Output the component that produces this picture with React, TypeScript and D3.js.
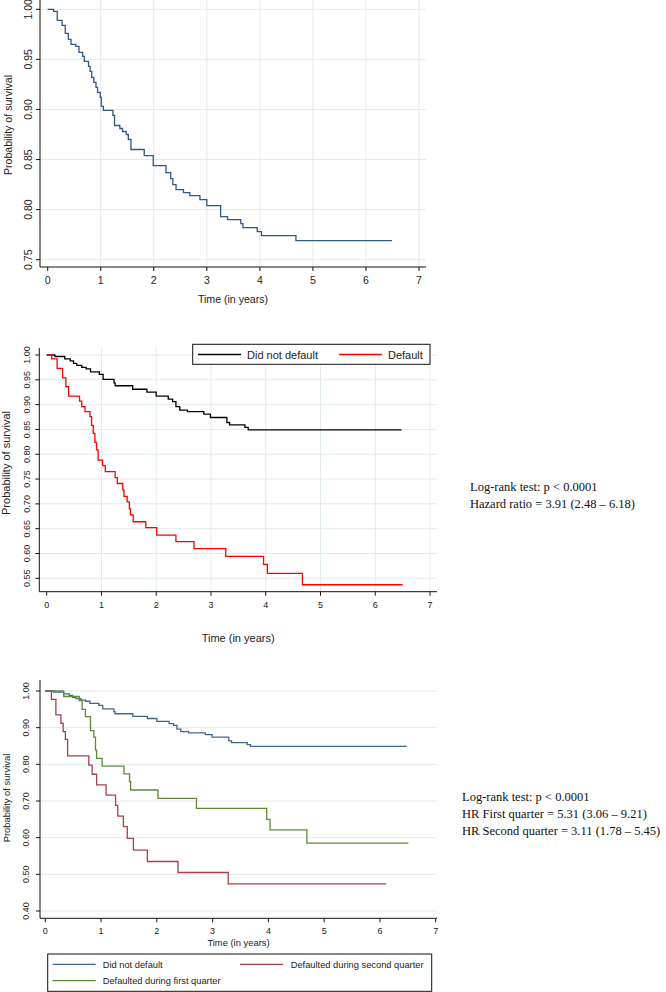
import React from "react";
import * as d3 from "d3";

// x ticks shared by all three panels
const yearTicks = [0, 1, 2, 3, 4, 5, 6, 7];

// panel 1: everyone
const overallT = [0.11, 0.18, 0.27, 0.33, 0.39, 0.44, 0.53, 0.59, 0.66, 0.69, 0.77, 0.8, 0.83, 0.87, 0.91, 0.94, 0.99, 1.01, 1.05, 1.23, 1.26, 1.36, 1.41, 1.48, 1.52, 1.57, 1.82, 1.99, 2.23, 2.32, 2.36, 2.42, 2.56, 2.68, 2.87, 3.0, 3.26, 3.39, 3.64, 3.68, 3.95, 4.03, 4.68];
const overallS = [0.998, 0.989, 0.984, 0.976, 0.97, 0.965, 0.963, 0.957, 0.953, 0.948, 0.943, 0.938, 0.932, 0.927, 0.922, 0.917, 0.912, 0.903, 0.899, 0.894, 0.884, 0.881, 0.878, 0.875, 0.87, 0.86, 0.854, 0.844, 0.837, 0.831, 0.825, 0.82, 0.817, 0.814, 0.81, 0.804, 0.793, 0.79, 0.786, 0.782, 0.778, 0.774, 0.769];
const overallEnd = 6.49;

// panel 2 and 3: did not default
const noDefaultT = [0.15, 0.33, 0.43, 0.49, 0.55, 0.64, 0.72, 0.8, 0.96, 1.03, 1.23, 1.25, 1.57, 1.83, 2.0, 2.22, 2.3, 2.36, 2.43, 2.57, 2.87, 2.99, 3.29, 3.34, 3.62, 3.68];
const noDefaultS = [0.997, 0.992, 0.988, 0.983, 0.979, 0.975, 0.972, 0.966, 0.961, 0.951, 0.944, 0.938, 0.931, 0.925, 0.917, 0.911, 0.906, 0.896, 0.889, 0.886, 0.881, 0.874, 0.864, 0.859, 0.854, 0.849];
const noDefaultEnd = 6.48;

// panel 2: default
const defaultT = [0.09, 0.19, 0.29, 0.35, 0.4, 0.6, 0.64, 0.7, 0.79, 0.82, 0.85, 0.88, 0.91, 0.94, 1.02, 1.07, 1.25, 1.29, 1.39, 1.41, 1.47, 1.51, 1.53, 1.58, 1.81, 2.01, 2.36, 2.69, 3.27, 3.96, 4.03, 4.67];
const defaultS = [0.992, 0.973, 0.954, 0.936, 0.917, 0.907, 0.896, 0.886, 0.876, 0.858, 0.842, 0.824, 0.809, 0.788, 0.777, 0.765, 0.753, 0.741, 0.728, 0.715, 0.704, 0.69, 0.678, 0.664, 0.652, 0.637, 0.624, 0.61, 0.594, 0.578, 0.56, 0.537];
const defaultEnd = 6.5;

// panel 3: defaulted during first / second quarter
const firstQT = [0.33, 0.61, 0.66, 0.72, 0.81, 0.87, 0.9, 0.92, 1.02, 1.41, 1.51, 1.53, 2.02, 2.71, 3.97, 4.03, 4.69];
const firstQS = [0.985, 0.974, 0.95, 0.93, 0.892, 0.874, 0.839, 0.816, 0.795, 0.774, 0.753, 0.73, 0.707, 0.68, 0.65, 0.621, 0.585];
const firstQEnd = 6.51;
const secondQT = [0.11, 0.19, 0.28, 0.32, 0.36, 0.4, 0.78, 0.84, 0.92, 1.09, 1.26, 1.3, 1.4, 1.47, 1.58, 1.83, 2.38, 3.28];
const secondQS = [0.977, 0.935, 0.912, 0.889, 0.868, 0.823, 0.798, 0.773, 0.744, 0.716, 0.688, 0.659, 0.63, 0.598, 0.566, 0.535, 0.505, 0.474];
const secondQEnd = 6.11;

const yTicks1 = [0.75, 0.8, 0.85, 0.9, 0.95, 1.0];
const yTicks2 = [0.55, 0.6, 0.65, 0.7, 0.75, 0.8, 0.85, 0.9, 0.95, 1.0];
const yTicks3 = [0.4, 0.5, 0.6, 0.7, 0.8, 0.9, 1.0];

const stats2 = ["Log-rank test: p < 0.0001", "Hazard ratio = 3.91 (2.48 \u2013 6.18)"];
const stats3 = ["Log-rank test: p < 0.0001", "HR First quarter = 5.31 (3.06 \u2013 9.21)", "HR Second quarter = 3.11 (1.78 \u2013 5.45)"];

const sans = "Arial, 'Liberation Sans', sans-serif";
const serif = "'Times New Roman', 'Liberation Serif', serif";
const gridColor = "#e2ebee";

const stepPoints = (t, s, end) => {
  const pts = [[0, 1]];
  t.forEach((v, i) => pts.push([v, s[i]]));
  pts.push([end, s[s.length - 1]]);
  return pts;
};

function Panel({ x0, x7, yTop, yBot, domain, axisX, axisY, axisTop, axisRight, yTicks, vGrid, tickFont, tickLabelX, titleX, titleY, xTickY, xTitleY, titleFont, series }) {
  const x = d3.scaleLinear().domain([0, 7]).range([x0, x7]);
  const y = d3.scaleLinear().domain(domain).range([yBot, yTop]);
  const line = d3.line().x(d => x(d[0])).y(d => y(d[1])).curve(d3.curveStepAfter);
  return (
    <g>
      {yTicks.map(v => (
        <line key={"hg" + v} x1={axisX} x2={axisRight} y1={y(v)} y2={y(v)} stroke={gridColor} strokeWidth={1} />
      ))}
      {vGrid && yearTicks.slice(1).map(v => (
        <line key={"vg" + v} x1={x(v)} x2={x(v)} y1={axisTop} y2={axisY} stroke={gridColor} strokeWidth={1} />
      ))}
      {series.map((s, i) => (
        <path key={i} d={line(s.pts)} fill="none" stroke={s.color} strokeWidth={1.3} />
      ))}
      <line x1={axisX} x2={axisX} y1={axisTop} y2={axisY} stroke="#111" />
      <line x1={axisX} x2={axisRight} y1={axisY} y2={axisY} stroke="#111" />
      {yTicks.map(v => (
        <g key={"yt" + v}>
          <line x1={axisX - 4} x2={axisX} y1={y(v)} y2={y(v)} stroke="#111" />
          <text transform={`translate(${tickLabelX},${y(v)}) rotate(-90)`} textAnchor="middle" fontFamily={sans} fontSize={tickFont} fill="#222">
            {v.toFixed(2)}
          </text>
        </g>
      ))}
      {yearTicks.map(v => (
        <g key={"xt" + v}>
          <line x1={x(v)} x2={x(v)} y1={axisY} y2={axisY + 4} stroke="#111" />
          <text x={x(v)} y={xTickY} textAnchor="middle" fontFamily={sans} fontSize={tickFont} fill="#222">{v}</text>
        </g>
      ))}
      <text transform={`translate(${titleX},${titleY}) rotate(-90)`} textAnchor="middle" fontFamily={sans} fontSize={titleFont} fill="#222">
        Probability of survival
      </text>
      <text x={(axisX + axisRight) / 2} y={xTitleY} textAnchor="middle" fontFamily={sans} fontSize={titleFont} fill="#222">
        Time (in years)
      </text>
    </g>
  );
}

export default function App() {
  const navy = "#2f5886";
  return (
    <div style={{ position: "absolute", left: 0, top: 0 }}>
      <svg width={666} height={992} style={{ display: "block", background: "#fff" }}>
        <Panel x0={47.7} x7={419} yTop={9.3} yBot={259.7} domain={[0.75, 1]} axisX={40} axisY={267} axisTop={0} axisRight={426}
          yTicks={yTicks1} vGrid={true} tickFont={10.5} tickLabelX={32} titleX={12} titleY={125} xTickY={284} xTitleY={303} titleFont={10.6}
          series={[{ pts: stepPoints(overallT, overallS, overallEnd), color: navy }]} />

        <Panel x0={46.7} x7={430} yTop={355} yBot={578.3} domain={[0.55, 1]} axisX={39.3} axisY={591.7} axisTop={348} axisRight={437}
          yTicks={yTicks2} vGrid={true} tickFont={9} tickLabelX={30} titleX={9.5} titleY={463} xTickY={608} xTitleY={641.5} titleFont={11}
          series={[
            { pts: stepPoints(noDefaultT, noDefaultS, noDefaultEnd), color: "#000" },
            { pts: stepPoints(defaultT, defaultS, defaultEnd), color: "#ff0000" },
          ]} />
        <rect x={192.7} y={344.3} width={237.3} height={20} fill="#fff" stroke="#111" />
        <line x1={198} x2={241} y1={354.5} y2={354.5} stroke="#000" strokeWidth={1.3} />
        <text x={247} y={358.5} fontFamily={sans} fontSize={11} fill="#222">Did not default</text>
        <line x1={339} x2={382} y1={354.5} y2={354.5} stroke="#ff0000" strokeWidth={1.3} />
        <text x={388} y={358.5} fontFamily={sans} fontSize={11} fill="#222">Default</text>
        {stats2.map((s, i) => (
          <text key={s} x={470} y={491 + i * 17} fontFamily={serif} fontSize={12.5} fill="#111">{s}</text>
        ))}

        <Panel x0={45.3} x7={435.7} yTop={691} yBot={911} domain={[0.4, 1]} axisX={40} axisY={918.3} axisTop={680} axisRight={437}
          yTicks={yTicks3} vGrid={false} tickFont={9} tickLabelX={28.5} titleX={10} titleY={798} xTickY={933.5} xTitleY={946} titleFont={9.4}
          series={[
            { pts: stepPoints(noDefaultT, noDefaultS, noDefaultEnd), color: "#3e6890" },
            { pts: stepPoints(secondQT, secondQS, secondQEnd), color: "#a6404a" },
            { pts: stepPoints(firstQT, firstQS, firstQEnd), color: "#5e8a38" },
          ]} />
        <rect x={47.7} y={954} width={384} height={37.3} fill="#fff" stroke="#111" />
        <line x1={52.7} x2={95.7} y1={964.3} y2={964.3} stroke="#3e6890" strokeWidth={1.3} />
        <text x={102.7} y={967.5} fontFamily={sans} fontSize={9.3} fill="#222">Did not default</text>
        <line x1={240} x2={283} y1={964.3} y2={964.3} stroke="#a6404a" strokeWidth={1.3} />
        <text x={290.7} y={967.5} fontFamily={sans} fontSize={9.3} fill="#222">Defaulted during second quarter</text>
        <line x1={52.7} x2={95.7} y1={980.7} y2={980.7} stroke="#5e8a38" strokeWidth={1.3} />
        <text x={102.7} y={984} fontFamily={sans} fontSize={9.3} fill="#222">Defaulted during first quarter</text>
        {stats3.map((s, i) => (
          <text key={s} x={462} y={801 + i * 17} fontFamily={serif} fontSize={12.5} fill="#111">{s}</text>
        ))}
      </svg>
    </div>
  );
}
